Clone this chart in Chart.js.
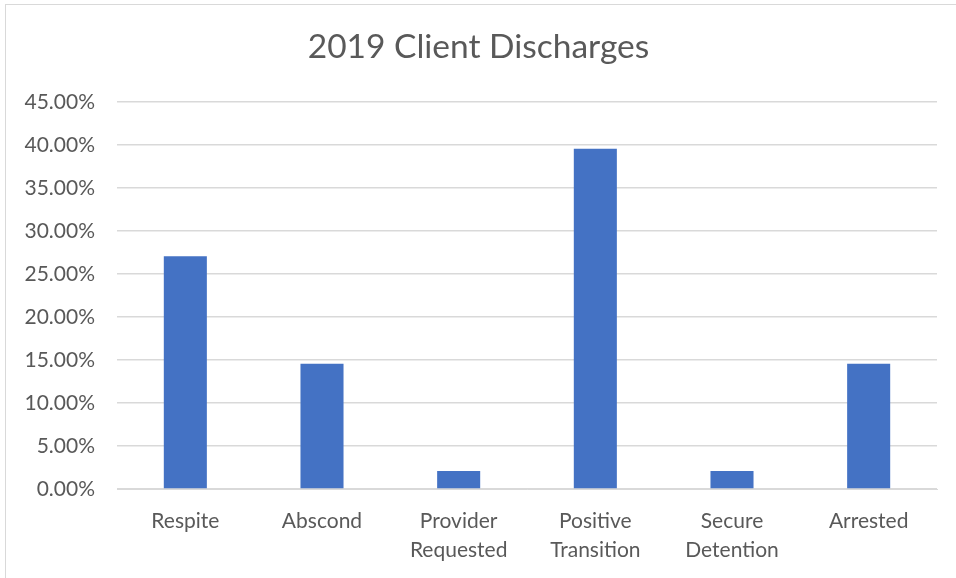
<!DOCTYPE html>
<html>
<head>
<meta charset="utf-8">
<script src="https://cdn.jsdelivr.net/npm/chart.js@4"></script>
<style>
  body { margin: 0; background: #fff; }
  #wrap { width: 956px; height: 578px; }
</style>
</head>
<body>
<div id="wrap"><canvas id="dischargeChart" width="956" height="578"></canvas></div>
<script>
// data
const categories = ['Respite', 'Abscond', ['Provider', 'Requested'], ['Positive', 'Transition'], ['Secure', 'Detention'], 'Arrested'];
const dischargePct = [27.08, 14.58, 2.08, 39.58, 2.08, 14.58];
const yMax = 45;
const yStep = 5;

// light frame around the chart, like the excel chart border
const framePlugin = {
    id: 'frame',
    beforeDraw(chart) {
        const c = chart.ctx;
        c.save();
        c.strokeStyle = '#d9d9d9';
        c.lineWidth = 1;
        c.strokeRect(5.5, 4.5, 2000, 2000);
        c.restore();
    }
};

const ctx = document.getElementById('dischargeChart').getContext('2d');
const dischargeChart = new Chart(ctx, {
    type: 'bar',
    data: {
        labels: categories,
        datasets: [{
            label: '2019',
            data: dischargePct,
            backgroundColor: '#4472c4',
            barPercentage: 0.315,
            categoryPercentage: 1
        }]
    },
    options: {
        responsive: false,
        animation: false,
        // some left padding nudges the title to the right, y axis width makes up the rest
        layout: { padding: { left: 20, right: 19, top: 0, bottom: 0 } },
        plugins: {
            legend: { display: false },
            tooltip: { enabled: false },
            title: {
                display: true,
                text: '2019 Client Discharges',
                color: '#595959',
                font: { family: 'Lato', size: 33.5, weight: 'normal', lineHeight: 1.2 },
                padding: { top: 27, bottom: 35 }
            }
        },
        scales: {
            x: {
                grid: { display: false },
                border: { display: true, color: '#d9d9d9' },
                ticks: {
                    color: '#595959',
                    font: { family: 'Lato', size: 21, lineHeight: 1.36 },
                    padding: 10,
                    maxRotation: 0,
                    autoSkip: false
                },
                afterFit: s => { s.height = 89; }
            },
            y: {
                min: 0,
                max: yMax,
                grid: { color: '#d9d9d9', drawTicks: false, lineWidth: 1.5 },
                border: { display: false },
                ticks: {
                    stepSize: yStep,
                    color: '#595959',
                    font: { family: 'Lato', size: 21 },
                    padding: 22,
                    callback: v => v.toFixed(2) + '%'
                },
                afterFit: s => { s.width = 97; }
            }
        }
    },
    plugins: [framePlugin]
});
</script>
</body>
</html>
